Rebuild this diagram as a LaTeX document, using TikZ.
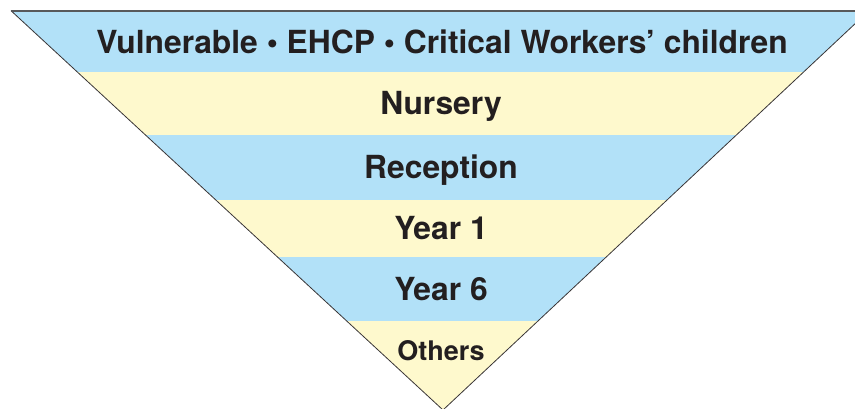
\documentclass[tikz,border=0pt]{standalone}
\usepackage{fontspec}
\setmainfont{TeX Gyre Heros}
\definecolor{bandblue}{HTML}{B2E1F8}
\definecolor{bandyellow}{HTML}{FEF9CD}
\definecolor{edgegray}{HTML}{58595B}
\definecolor{textdark}{HTML}{231F20}
\tikzset{
  band label/.style={anchor=base, inner sep=0pt, text=textdark, font=\fontsize{31.8}{36}\selectfont\bfseries},
  small label/.style={band label, font=\fontsize{27}{30}\selectfont\bfseries}
}
\begin{document}
\begin{tikzpicture}[x=1pt, y=-1pt]
\useasboundingbox (0,0) rectangle (855,409);
\clip (0,0) rectangle (855,409);
\coordinate (topleft) at (11,10.7);
\coordinate (topright) at (869,10.7);
\coordinate (apex) at (443,410);
% the bands
\begin{scope}
\clip (topleft) -- (topright) -- (apex) -- cycle;
\fill[bandblue] (0,10.7) rectangle (870,72);
\fill[bandyellow] (0,72) rectangle (870,135.5);
\fill[bandblue] (0,135.5) rectangle (870,200);
\fill[bandyellow] (0,200) rectangle (870,257);
\fill[bandblue] (0,257) rectangle (870,320.7);
\fill[bandyellow] (0,320.7) rectangle (870,411);
\end{scope}
\draw[line width=0.8pt, textdark!90] (topleft) -- (apex) -- (topright);
\draw[line width=2pt, edgegray] (topleft) -- (topright);
% labels
\node[band label] (vulnerable) at (442,53.3) {Vulnerable • EHCP • Critical Workers’ children};
\node[band label] (nursery) at (441,115) {Nursery};
\node[band label] (reception) at (441,179) {Reception};
\node[band label] (year1) at (441,239.8) {Year 1};
\node[band label] (year6) at (441,300.1) {Year 6};
\node[small label] (others) at (441,360.7) {Others};
\end{tikzpicture}
\end{document}
